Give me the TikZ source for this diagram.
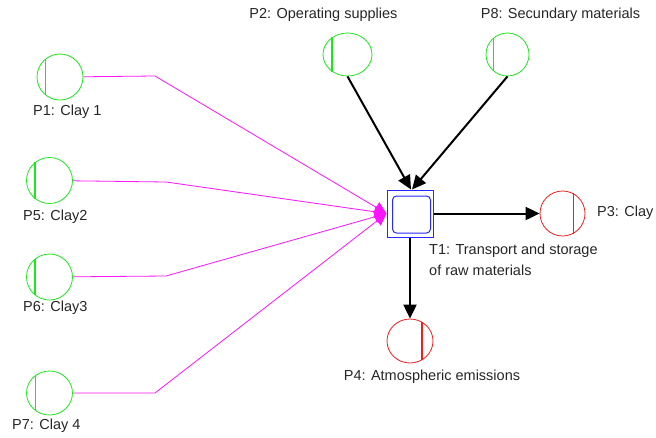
\documentclass[tikz,border=0pt]{standalone}
\usepackage{fontspec}
\setmainfont{Liberation Sans}
\usetikzlibrary{arrows.meta,shapes.geometric}

\definecolor{placegreen}{RGB}{30,230,30}
\definecolor{placered}{RGB}{240,30,30}
\definecolor{flowpink}{RGB}{255,20,255}
\definecolor{boxblue}{RGB}{40,40,255}

\begin{document}
\begin{tikzpicture}[x=1pt,y=-1pt,
  place/.style={ellipse,draw,line width=0.8pt,inner sep=0pt,
    minimum width=46pt,minimum height=46pt},
  inplace/.style={place,draw=placegreen},
  outplace/.style={place,draw=placered},
  greenmark/.style={draw=placegreen,line width=1.3pt},
  redmark/.style={draw=placered,line width=1.2pt},
  lbl/.style={font=\fontsize{14.5}{21}\selectfont,inner sep=0pt,text=black!85},
  material/.style={draw=flowpink,line width=0.8pt,
    -{Triangle[length=12pt,width=12pt,fill=flowpink]}},
  process/.style={draw=black,line width=2pt,
    -{Triangle[length=14pt,width=13pt]}}]

\useasboundingbox (0,0) rectangle (656,437);

% process T1
\node[draw=boxblue,line width=1pt,minimum width=46pt,minimum height=47pt,inner sep=0pt] (t1) at (410,213.5) {};
\node[draw=boxblue,line width=1pt,rounded corners=4pt,minimum width=38pt,minimum height=37pt,inner sep=0pt] (t1in) at (411.5,214.5) {};

% input places
\node[inplace] (p1) at (60,77) {};
\node[inplace] (p5) at (49.5,180.5) {};
\node[inplace] (p6) at (49.5,277) {};
\node[inplace,minimum height=44pt] (p7) at (49.5,393) {};
\node[inplace,minimum width=49pt,minimum height=43pt] (p2) at (347.5,54.5) {};
\node[inplace,minimum width=43pt,minimum height=43pt] (p8) at (507.5,54.5) {};

% output places
\node[outplace,minimum width=45pt,minimum height=45pt] (p3) at (562.5,213.5) {};
\node[outplace,minimum height=44pt] (p4) at (410,341) {};

% marks inside the places
\draw[greenmark] (p1.128) -- (p1.-128);
\draw[greenmark] (p5.128) -- (p5.-128);
\draw[greenmark] (p6.128) -- (p6.-128);
\draw[greenmark] (p7.128) -- (p7.-128);
\draw[greenmark] (p2.132) -- (p2.-132);
\draw[greenmark] (p8.130) -- (p8.-130);
\draw[redmark] (p3.62) -- (p3.-62);
\draw[redmark] (p4.58) -- (p4.-58);

% bend points of the clay flows
\coordinate (b1) at (155,76);
\coordinate (b5) at (166,182);
\coordinate (b6) at (166,276);
\coordinate (b7) at (155,393);

\draw[material] (p1) -- (b1) -- (t1.west);
\draw[material] (p5) -- (b5) -- (t1.west);
\draw[material] (p6) -- (b6) -- (t1.west);
\draw[material] (p7) -- (b7) -- (t1.west);

\draw[process] (p2.south) -- ([xshift=1pt]t1.north);
\draw[process] (p8.south) -- ([xshift=2pt]t1.north);
\draw[process] (t1.east) -- (p3.west);
\draw[process] (t1.south) -- (p4.north);

% labels
\node[lbl,anchor=west] (l1) at (33,112) {P1: Clay 1};
\node[lbl,anchor=west] (l5) at (23,217) {P5: Clay2};
\node[lbl,anchor=west] (l6) at (23,308) {P6: Clay3};
\node[lbl,anchor=west] (l7) at (12,426) {P7: Clay 4};
\node[lbl] (l2) at (323.5,15) {P2: Operating supplies};
\node[lbl] (l8) at (560.5,15) {P8: Secundary materials};
\node[lbl,anchor=west] (l3) at (597,213) {P3: Clay};
\node[lbl] (l4) at (432,377) {P4: Atmospheric emissions};
\node[lbl,anchor=west,align=left] (lt1) at (429,259.5) {T1: Transport and storage\\ of raw materials};

\end{tikzpicture}
\end{document}
